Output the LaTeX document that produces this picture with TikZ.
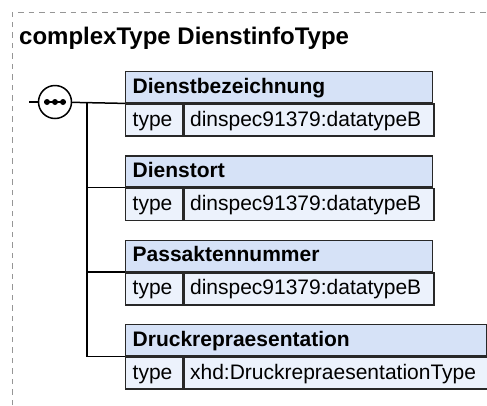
\documentclass[tikz,border=0pt]{standalone}
\usepackage{fontspec}
\setmainfont{Liberation Sans}
\definecolor{hdrblue}{RGB}{214,226,247}
\definecolor{rowblue}{RGB}{236,242,252}
\definecolor{edgegray}{RGB}{40,40,40}
\definecolor{framegray}{RGB}{150,150,150}

\begin{document}
\begin{tikzpicture}[x=1pt,y=-1pt,
  hdr/.style={draw=edgegray,line width=1.4pt,fill=hdrblue,anchor=north west,inner xsep=7pt,inner ysep=0pt,
    minimum height=31pt,text height=16pt,text depth=4pt,font=\fontsize{21}{24}\selectfont\bfseries,align=left},
  typecell/.style={draw=edgegray,line width=1.4pt,fill=rowblue,anchor=north west,inner xsep=7pt,inner ysep=0pt,
    minimum height=32pt,text height=16pt,text depth=4pt,text width=43pt,font=\fontsize{21}{24}\selectfont,align=left},
  valcell/.style={typecell,inner xsep=6pt},
  link/.style={line width=1.5pt,black}]
\useasboundingbox (0,0) rectangle (487,405);
\draw[framegray,line width=1pt,dash pattern=on 5.5pt off 5pt] (12,405) -- (12,12) -- (487,12);
\node[anchor=base west,inner sep=0pt,font=\fontsize{24}{28}\selectfont\bfseries] (title) at (19,44) {complexType DienstinfoType};

\node[hdr,text width=293pt] (bez) at (125,71) {Dienstbezeichnung};
\node[typecell] (bezt) at (bez.south west) {type};
\node[valcell,text width=238pt] (bezv) at (bezt.north east) {dinspec91379:datatypeB};

\node[hdr,text width=293pt] (ort) at (125,155.3) {Dienstort};
\node[typecell] (ortt) at (ort.south west) {type};
\node[valcell,text width=238pt] (ortv) at (ortt.north east) {dinspec91379:datatypeB};

\node[hdr,text width=293pt] (pass) at (125,239.7) {Passaktennummer};
\node[typecell] (passt) at (pass.south west) {type};
\node[valcell,text width=238pt] (passv) at (passt.north east) {dinspec91379:datatypeB};

\node[hdr,text width=347pt] (druck) at (125,324) {Druckrepraesentation};
\node[typecell] (druckt) at (druck.south west) {type};
\node[valcell,text width=292pt] (druckv) at (druckt.north east) {xhd:DruckrepraesentationType};

\coordinate (in) at (29,102);
\coordinate (spine) at (87,102);
\node[circle,draw=black,line width=1.5pt,fill=white,minimum size=33pt,inner sep=0pt] (seq) at (55,102) {};
\draw[link] (in) -- (seq);
\draw[link] (seq) -- (bez.south west);
\draw[link] (spine) |- (druck.south west);
\draw[link] (spine |- ort.south west) -- (ort.south west);
\draw[link] (spine |- pass.south west) -- (pass.south west);
\draw[line width=1.2pt] ([xshift=-11pt]seq.center) -- ([xshift=11pt]seq.center);
\fill (seq.center) circle (3pt);
\fill ([xshift=-8pt]seq.center) circle (3pt);
\fill ([xshift=8pt]seq.center) circle (3pt);
\end{tikzpicture}
\end{document}
